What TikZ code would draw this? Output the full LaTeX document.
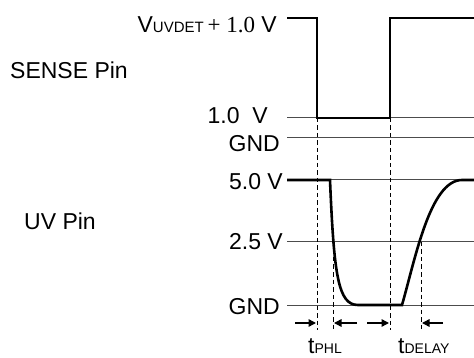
\documentclass[tikz,border=0pt]{standalone}
\usepackage{fontspec}
\setmainfont{Liberation Sans}
\newfontfamily\serifface{Liberation Serif}
\usetikzlibrary{arrows.meta}
\tikzset{
  lbl/.style={inner sep=0pt, font=\fontsize{23}{27}\selectfont},
  level/.style={line width=1pt, draw=black!70},
  wave/.style={line width=2.6pt, line join=miter},
  guide/.style={line width=0.9pt, dash pattern=on 4.5pt off 3pt},
  tarrow/.style={line width=1.4pt, -{Triangle[length=7.5pt,width=7.5pt]}}
}
\newcommand{\subtxt}[1]{{\fontsize{15}{17}\selectfont #1}}
\newcommand{\tsub}[1]{{\fontsize{14}{16}\selectfont #1}}
\begin{document}
\begin{tikzpicture}[x=1pt,y=-1pt]
\useasboundingbox (0,0) rectangle (474,358);
% coordinates
\coordinate (s0) at (287,18);
\coordinate (s1) at (317,18);
\coordinate (s2) at (317,118);
\coordinate (s3) at (390,118);
\coordinate (s4) at (390,18);
\coordinate (s5) at (474,18);
% level lines
\draw[level] (287,118) -- (474,118);
\draw[level] (287,138) -- (474,138);
\draw[level] (287,180) -- (474,180);
\draw[level] (287,242) -- (474,242);
\draw[level] (287,305) -- (474,305);
% guides
\coordinate (g1t) at (317,118); \coordinate (g1b) at (317,330);
\coordinate (g2t) at (333,242); \coordinate (g2b) at (333,330);
\coordinate (g3t) at (390,118); \coordinate (g3b) at (390,330);
\coordinate (g4t) at (421,242); \coordinate (g4b) at (421,330);
\draw[guide] (g1t) -- (g1b);
\draw[guide] (g2t) -- (g2b);
\draw[guide] (g3t) -- (g3b);
\draw[guide] (g4t) -- (g4b);
% SENSE waveform
\draw[wave] (s0) -- (s1) -- (s2) -- (s3) -- (s4) -- (s5);
% UV waveform
\draw[wave] (287,180) -- (330,180)
  .. controls (334,275) and (338,305) .. (358,305)
  -- (402,305)
  .. controls (415,260) and (430,180) .. (462,180) -- (474,180);
% arrows
\coordinate (a1s) at (295,323); \coordinate (a1e) at (316,323);
\coordinate (a2s) at (357,323); \coordinate (a2e) at (334,323);
\coordinate (a3s) at (367,323); \coordinate (a3e) at (389,323);
\coordinate (a4s) at (443,323); \coordinate (a4e) at (422,323);
\draw[tarrow] (a1s) -- (a1e);
\draw[tarrow] (a2s) -- (a2e);
\draw[tarrow] (a3s) -- (a3e);
\draw[tarrow] (a4s) -- (a4e);
% labels
\node[lbl, anchor=base east] (ltop) at (277,33) {V\subtxt{UVDET}\,{\serifface +\ 1.0} V};
\node[lbl, anchor=base west] (lsense) at (10,79) {SENSE Pin};
\node[lbl, anchor=base east] (l1v) at (268,124) {1.0\ \ V};
\node[lbl, anchor=base east] (lgnd1) at (280,152) {GND};
\node[lbl, anchor=base east] (l5v) at (283,190) {5.0 V};
\node[lbl, anchor=base west] (luv) at (24,230) {UV Pin};
\node[lbl, anchor=base east] (l25) at (283,250) {2.5 V};
\node[lbl, anchor=base east] (lgnd2) at (280,314) {GND};
\node[lbl, anchor=base west] (tphl) at (308,353) {t\tsub{PHL}};
\node[lbl, anchor=base west] (tdel) at (398,353) {t\tsub{DELAY}};
\end{tikzpicture}
\end{document}
